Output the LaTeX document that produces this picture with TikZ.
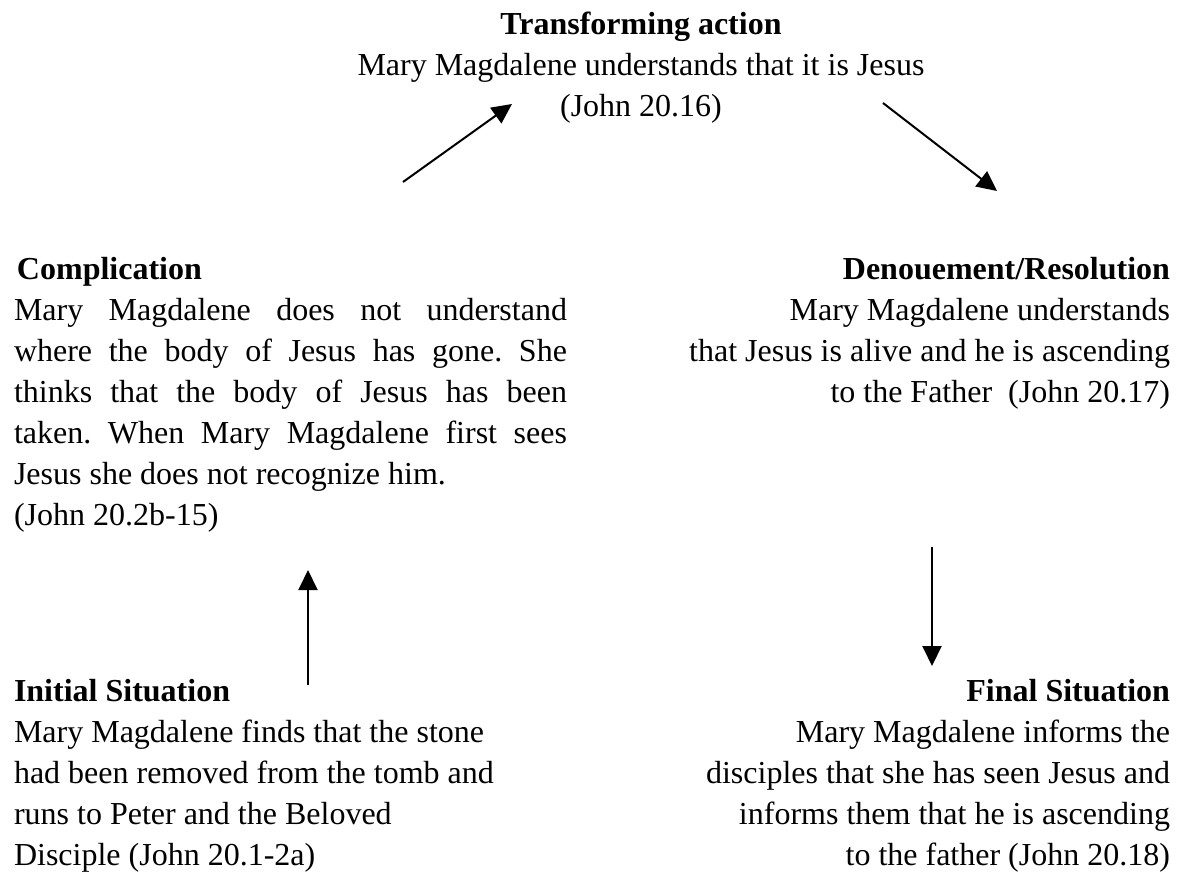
\documentclass[tikz,border=0pt]{standalone}
\usepackage{fontspec}
\setmainfont{Liberation Serif}
\usetikzlibrary{arrows.meta}
\frenchspacing

\begin{document}
\begin{tikzpicture}[x=.5pt, y=-.5pt, >={Triangle[length=10pt, width=9.5pt]}, line width=1pt,
    every node/.style={inner sep=0pt, font=\fontsize{16pt}{20.5pt}\selectfont},
    lblock/.style={anchor=base west, align=left},
    rblock/.style={anchor=base east, align=right}]
\useasboundingbox (0,0) rectangle (1183,878);
\node[anchor=base, align=center] (trans) at (641,116){\textbf{Transforming action}\\Mary Magdalene understands that it is Jesus\\(John 20.16)};
\node[anchor=base west, text width=276.5pt, align=justify] (comp) at (13,279){\tolerance=10000\hyphenpenalty=10000
    \hspace*{1.5pt}\textbf{Complication}\\
    Mary Magdalene does not understand\linebreak
    where the body of Jesus has gone. She\linebreak
    thinks that the body of Jesus has been\linebreak
    taken. When Mary Magdalene first sees\linebreak
    Jesus she does not recognize him.\\
    (John 20.2b-15)};
\node[rblock] (denoue) at (1171,402){\textbf{Denouement/Resolution}\\Mary Magdalene understands\\that Jesus is alive and he is ascending\\to the Father~ (John 20.17)};
\node[lblock] (init) at (13,865){\textbf{Initial Situation}\\Mary Magdalene finds that the stone\\had been removed from the tomb and\\runs to Peter and the Beloved\\Disciple (John 20.1-2a)};
\node[rblock] (final) at (1171,865){\textbf{Final Situation}\\Mary Magdalene informs the\\disciples that she has seen Jesus and\\informs them that he is ascending\\to the father (John 20.18)};

\coordinate (up1) at (403,182);
\coordinate (up2) at (512,104);
\coordinate (dn1) at (883,103);
\coordinate (dn2) at (997,191);
\coordinate (ci1) at (308,685);
\coordinate (ci2) at (308,570);
\coordinate (df1) at (932,547);
\coordinate (df2) at (932,666);
\draw[->](up1)--(up2);
\draw[->](dn1)--(dn2);
\draw[->](ci1)--(ci2);
\draw[->](df1)--(df2);

\end{tikzpicture}
\end{document}
